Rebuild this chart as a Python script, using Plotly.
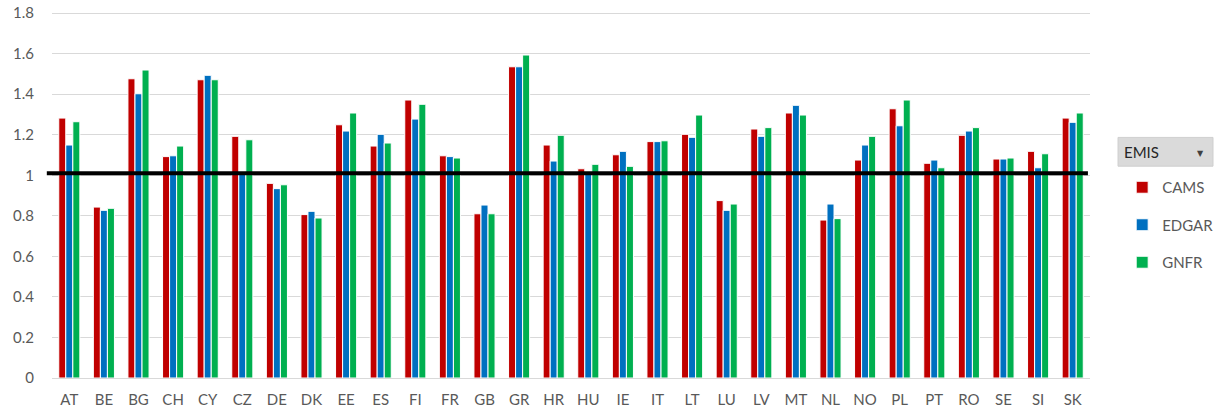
import plotly.graph_objects as go

countries = ["AT","BE","BG","CH","CY","CZ","DE","DK","EE","ES","FI","FR","GB","GR","HR",
             "HU","IE","IT","LT","LU","LV","MT","NL","NO","PL","PT","RO","SE","SI","SK"]
cams  = [1.282,0.843,1.476,1.092,1.471,1.192,0.960,0.806,1.249,1.144,1.371,1.096,0.810,1.535,1.149,
         1.032,1.101,1.166,1.202,0.875,1.228,1.307,0.779,1.075,1.328,1.059,1.197,1.080,1.118,1.282]
edgar = [1.149,0.827,1.402,1.096,1.493,1.005,0.934,0.822,1.218,1.202,1.277,1.092,0.853,1.535,1.070,
         1.005,1.118,1.166,1.187,0.827,1.192,1.345,0.858,1.149,1.244,1.075,1.218,1.080,1.037,1.261]
gnfr  = [1.264,0.837,1.519,1.144,1.471,1.175,0.953,0.789,1.307,1.159,1.350,1.085,0.810,1.593,1.197,
         1.054,1.044,1.170,1.297,0.858,1.235,1.297,0.786,1.192,1.371,1.037,1.235,1.085,1.106,1.307]
series = [("CAMS", cams, "#C00000"), ("EDGAR", edgar, "#0070C0"), ("GNFR", gnfr, "#00B050")]
ref_value = 1.01
y_ticks = [0, 0.2, 0.4, 0.6, 0.8, 1.0, 1.2, 1.4, 1.6, 1.8]
y_labels = ["0", "0.2", "0.4", "0.6", "0.8", "1", "1.2", "1.4", "1.6", "1.8"]

font_family = "Lato, 'Open Sans', sans-serif"
fig = go.Figure()
for name, vals, color in series:
    fig.add_trace(go.Bar(x=countries, y=vals, name=name, legendgroup=name,
                         marker=dict(color=color, line=dict(color="white", width=1))))

fig.add_shape(type="line", xref="paper", yref="y", x0=-0.005, x1=0.998,
              y0=ref_value, y1=ref_value, line=dict(color="black", width=4))

# EMIS filter button
fig.add_shape(type="rect", xref="paper", yref="paper", x0=1.027, x1=1.1185, y0=0.574, y1=0.652,
              fillcolor="#DADADA", line=dict(color="#CFCFCF", width=1), layer="below")
fig.add_annotation(xref="paper", yref="paper", x=1.031, y=0.612, text="EMIS", showarrow=False,
                   xanchor="left", yanchor="middle", font=dict(family=font_family, size=15, color="#262626"))
fig.add_annotation(xref="paper", yref="paper", x=1.106, y=0.608, text="▼", showarrow=False,
                   xanchor="center", yanchor="middle", font=dict(family="DejaVu Sans", size=8, color="#404040"))

fig.update_layout(
    width=1215, height=420,
    margin=dict(l=52, r=125, t=9, b=42, autoexpand=False),
    paper_bgcolor="white", plot_bgcolor="white",
    barmode="group", bargap=0.39, bargroupgap=0.0,
    font=dict(family=font_family, size=15, color="#595959"),
    legend=dict(x=1.031, y=0.561, xanchor="left", yanchor="top", tracegroupgap=15,
                font=dict(size=15, color="#595959"), itemwidth=30, bgcolor="rgba(0,0,0,0)"),
    showlegend=True,
)
fig.update_xaxes(showgrid=False, ticks="outside", ticklen=8, tickcolor="white",
                 showline=False, tickfont=dict(size=15, color="#595959"))
fig.update_yaxes(range=[0, 1.82], tickvals=y_ticks, ticktext=y_labels, showgrid=True,
                 gridcolor="#D9D9D9", gridwidth=1, zeroline=True, zerolinecolor="#D9D9D9",
                 zerolinewidth=1, ticks="outside", ticklen=14, tickcolor="white",
                 tickfont=dict(size=15, color="#595959"))

fig.write_html("out.html", config={"displayModeBar": False},
               post_script="document.body.style.margin='0px';")
